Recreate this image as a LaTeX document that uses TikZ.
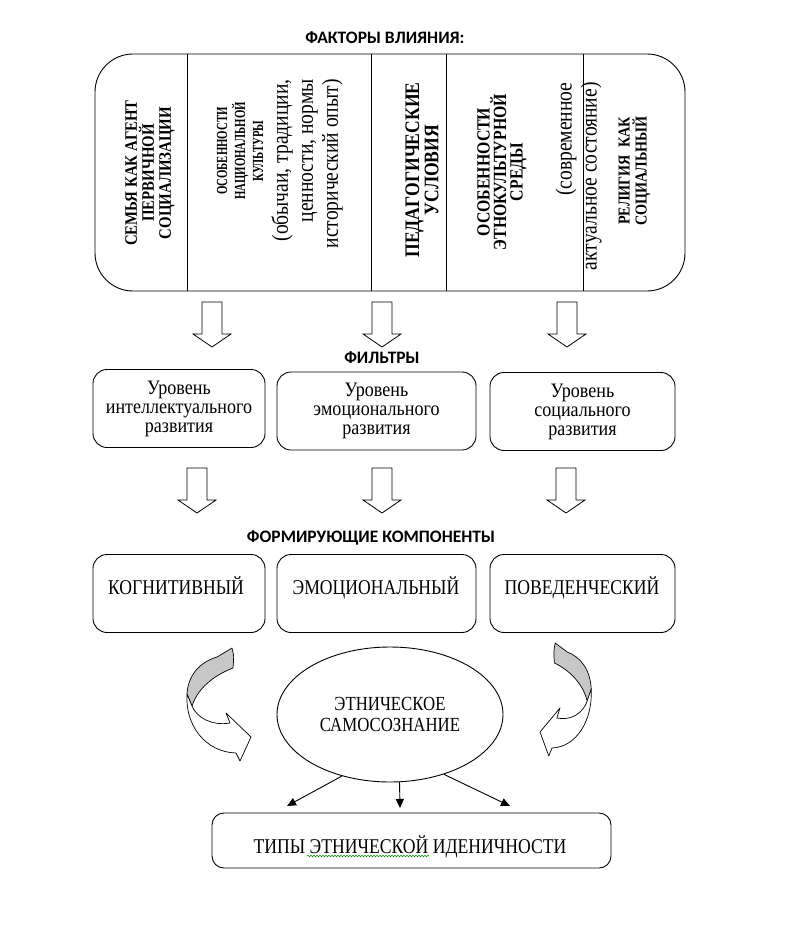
\documentclass[tikz,border=0pt]{standalone}
\usepackage{fontspec}
\setmainfont{Liberation Serif}
\newfontfamily\cserif[FakeStretch=0.85]{Liberation Serif}
\newfontfamily\dserif[FakeStretch=0.7]{Liberation Serif}
\newfontfamily\fserif[FakeStretch=0.84]{Liberation Serif}
\newfontfamily\gserif[FakeStretch=0.88]{Liberation Serif}
\newfontfamily\headfont{Carlito}
\usetikzlibrary{shapes.geometric, arrows.meta, decorations.pathmorphing}
\begin{document}
\begin{tikzpicture}[x=1pt,y=-1pt,line width=0.9pt,
  fbox/.style={draw, rounded corners=14pt, inner sep=0pt, minimum height=78pt, align=center, font=\gserif\fontsize{20.5}{19}\selectfont},
  cbox/.style={draw, rounded corners=14pt, inner sep=0pt, minimum height=78pt},
  ctext/.style={inner sep=0pt, anchor=base, font=\fserif\fontsize{21}{20}\selectfont},
  head/.style={inner sep=0pt, font=\headfont\bfseries\fontsize{17.5}{18}\selectfont},
  vtext/.style={rotate=90, inner sep=0pt, align=center},
  ribbon/.style={draw, line width=0.7pt, line join=round},
  tipline/.style={-{Triangle[length=9pt,width=8pt]}},
  blockdown/.pic={\draw[line width=0.8pt, line join=miter] (-10,0) -- (10,0) -- (10,32) -- (19,32) -- (0,45) -- (-19,32) -- (-10,32) -- cycle;}
]
\useasboundingbox (0,0) rectangle (784,925);

% headings
\node[head] (h1) at (385,38) {ФАКТОРЫ ВЛИЯНИЯ:};
\node[head] (h2) at (382,358) {ФИЛЬТРЫ};
\node[head] (h3) at (371,538) {ФОРМИРУЮЩИЕ КОМПОНЕНТЫ};

% factors box
\node[draw, rounded corners=38pt, minimum width=590pt, minimum height=237pt, inner sep=0pt] (fac) at (390,172.5) {};
\coordinate (d1t) at (187,54);  \coordinate (d1b) at (187,291);
\coordinate (d2t) at (371,54);  \coordinate (d2b) at (371,291);
\coordinate (d3t) at (446,54);  \coordinate (d3b) at (446,291);
\coordinate (d4t) at (583,54);  \coordinate (d4b) at (583,291);
\draw (d1t) -- (d1b);
\draw (d2t) -- (d2b);
\draw (d3t) -- (d3b);
\draw (d4t) -- (d4b);

\node[vtext, font=\cserif\bfseries\fontsize{17.5}{17}\selectfont] (t1) at (150,173) {СЕМЬЯ КАК АГЕНТ\\ПЕРВИЧНОЙ\\СОЦИАЛИЗАЦИИ};
\node[vtext, font=\dserif\bfseries\fontsize{15.4}{18}\selectfont] (t2a) at (240,151) {ОСОБЕННОСТИ\\НАЦИОНАЛЬНОЙ\\КУЛЬТУРЫ};
\node[vtext, align=right, anchor=east, font=\cserif\fontsize{23}{25}\selectfont] (t2b) at (307,79) {(обычаи, традиции,\\ценности, нормы\\исторический опыт)};
\node[vtext, font=\cserif\bfseries\fontsize{20.7}{16.5}\selectfont] (t3) at (422,170) {ПЕДАГОГИЧЕСКИЕ\\УСЛОВИЯ};
\node[vtext, font=\cserif\bfseries\fontsize{18.6}{16.5}\selectfont] (t4a) at (502,172) {ОСОБЕННОСТИ\\ЭТНОКУЛЬТУРНОЙ\\СРЕДЫ};
\node[vtext, align=right, anchor=east, font=\cserif\fontsize{23}{25}\selectfont] (t4b) at (578.5,82) {(современное\\актуальное состояние)};
\node[vtext, font=\cserif\bfseries\fontsize{16.7}{17}\selectfont] (t5) at (634.5,171) {РЕЛИГИЯ\ \ КАК\\СОЦИАЛЬНЫЙ};

% block arrows row 1
\pic at (212,302) {blockdown};
\pic at (382,302) {blockdown};
\pic at (567,302) {blockdown};

% filters
\node[fbox, minimum width=172pt] (f1) at (179,408.5) {Уровень\\интеллектуального\\развития};
\node[fbox, minimum width=199pt] (f2) at (376.5,411) {Уровень\\эмоционального\\развития};
\node[fbox, minimum width=185pt] (f3) at (582.5,411.5) {Уровень\\социального\\развития};

% block arrows row 2
\pic at (197,468) {blockdown};
\pic at (382,468) {blockdown};
\pic at (566,468) {blockdown};

% components
\node[cbox, minimum width=172pt] (c1) at (179,593.5) {};
\node[cbox, minimum width=199pt] (c2) at (376.5,593.5) {};
\node[cbox, minimum width=185pt] (c3) at (582.5,593.5) {};
\node[ctext] (c1t) at (176,594.5) {КОГНИТИВНЫЙ};
\node[ctext] (c2t) at (376,594.5) {ЭМОЦИОНАЛЬНЫЙ};
\node[ctext] (c3t) at (582,594.5) {ПОВЕДЕНЧЕСКИЙ};

% curved ribbon arrows
\begin{scope}
  \path[ribbon, fill=black!22] (217,657) -- (232,648) .. controls (234,656) .. (233,668)
     .. controls (212,676) and (197,690) .. (192,706) -- (187,694)
     .. controls (188,675) and (200,662) .. (217,657) -- cycle;
  \path[ribbon, fill=white] (187,694) .. controls (185,725) and (205,752) .. (236,753)
     -- (240,761) -- (251,737) -- (226,713) -- (230,723)
     .. controls (212,726) and (197,718) .. (192,706) -- cycle;
\end{scope}
\begin{scope}[shift={(540,732)}, xscale=-0.8, shift={(-251,-737)}]
  \path[ribbon, fill=black!22] (217,657) -- (232,648) .. controls (234,656) .. (233,668)
     .. controls (212,676) and (197,690) .. (192,706) -- (187,694)
     .. controls (188,675) and (200,662) .. (217,657) -- cycle;
  \path[ribbon, fill=white] (187,694) .. controls (185,725) and (205,752) .. (236,753)
     -- (240,761) -- (251,737) -- (226,713) -- (230,723)
     .. controls (212,726) and (197,718) .. (192,706) -- cycle;
\end{scope}

% ellipse
\node[ellipse, draw, minimum width=226pt, minimum height=135pt, inner sep=0pt, align=center, font=\fserif\fontsize{20}{20.5}\selectfont] (ell) at (390,714.5) {ЭТНИЧЕСКОЕ\\САМОСОЗНАНИЕ};

% types box
\node[draw, rounded corners=12pt, minimum width=399pt, minimum height=55pt, inner sep=0pt] (types) at (411.5,840.5) {};
\node[ctext] (typest) at (410,853.5) {ТИПЫ ЭТНИЧЕСКОЙ ИДЕНИЧНОСТИ};
\coordinate (wv1) at (307,856);
\coordinate (wv2) at (429,856);
\draw[green!55!black, line width=0.5pt, decorate, decoration={snake, amplitude=0.8pt, segment length=3pt}] (wv1) -- (wv2);

% arrows to types
\coordinate (a1e) at (287,806);
\coordinate (a2e) at (400,808);
\coordinate (a3e) at (510,806);
\draw[tipline] (ell.232) -- (a1e);
\draw[tipline] (ell.278) -- (a2e);
\draw[tipline] (ell.312) -- (a3e);
\end{tikzpicture}
\end{document}
